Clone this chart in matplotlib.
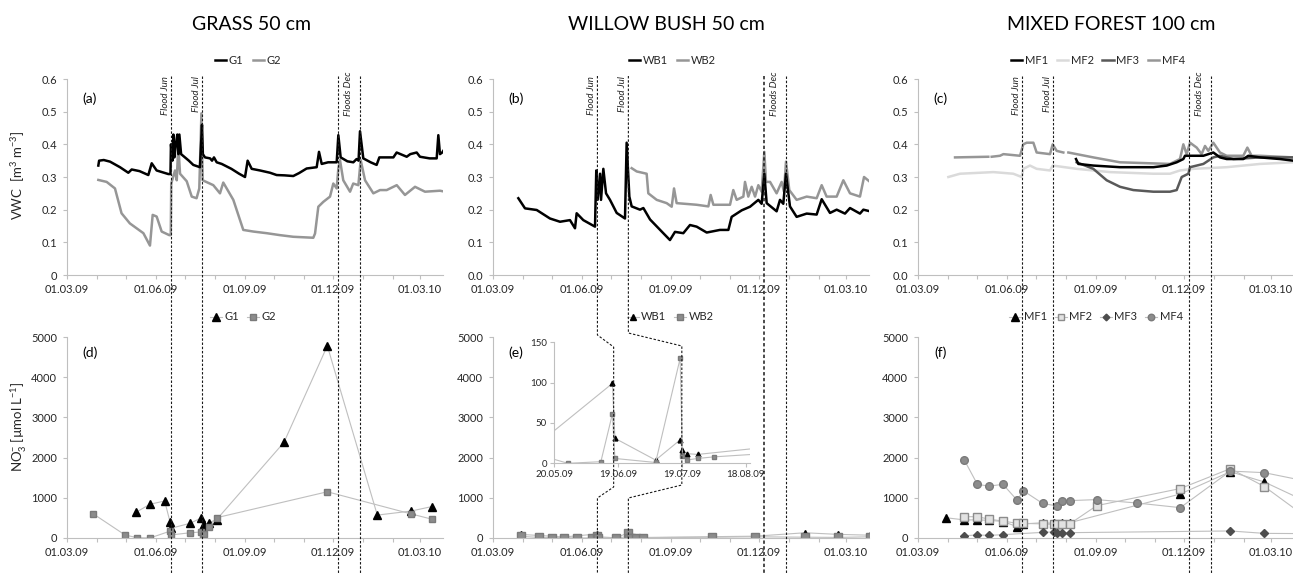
import numpy as np
import matplotlib
matplotlib.use('Agg')
import matplotlib.pyplot as plt
import matplotlib.dates as mdates
from matplotlib.lines import Line2D
from matplotlib.ticker import FuncFormatter, FixedLocator
from matplotlib.transforms import blended_transform_factory
from datetime import datetime

plt.rcParams['font.family'] = ['Lato', 'DejaVu Sans']
plt.rcParams['mathtext.fontset'] = 'custom'
plt.rcParams['mathtext.rm'] = 'Lato'
plt.rcParams['mathtext.it'] = 'Lato:italic'

# all x values are days after 01.03.2009
BASE = mdates.date2num(datetime(2009, 3, 1))
XMAX = 389

FLOOD_DAYS = [108, 140, 280, 303]          # 17.06.09, 19.07.09, 06.12.09, 29.12.09
FLOOD_LABELS = ['Flood Jun', 'Flood Jul', 'Floods Dec']

# ---- VWC, grass 50 cm
G1_DAY = [32.4, 33.2, 38, 44.5, 54.8, 63.4, 66.9, 75, 84.1, 87.6, 92.7, 104.8, 107, 107.5, 109, 110,
          111, 112.5, 114.1, 115.2, 116.2, 118, 122, 126, 130.6, 137.5, 139.6, 140.5, 142.7, 148,
          150, 152, 154.8, 160, 170, 178, 184.1, 186.8, 191, 199.6, 210, 216.8, 225, 234, 240,
          247.8, 258.2, 260.6, 263.4, 270, 278.9, 280.6, 283, 290, 296.1, 299.5, 301.5, 303,
          306.4, 314, 320.2, 323, 337.5, 340.9, 351.3, 355, 361.6, 365, 375, 382.3, 384, 385.7,
          388, 390.9]
G1_VWC = [0.335, 0.35, 0.352, 0.347, 0.33, 0.313, 0.323, 0.318, 0.306, 0.342, 0.32, 0.309, 0.309,
          0.40, 0.35, 0.43, 0.36, 0.40, 0.43, 0.37, 0.43, 0.37, 0.36, 0.35, 0.337, 0.33, 0.46,
          0.37, 0.36, 0.357, 0.35, 0.36, 0.345, 0.34, 0.325, 0.31, 0.30, 0.35, 0.325, 0.32, 0.313,
          0.306, 0.305, 0.303, 0.312, 0.326, 0.33, 0.377, 0.34, 0.345, 0.345, 0.428, 0.36, 0.348,
          0.345, 0.355, 0.35, 0.44, 0.357, 0.345, 0.337, 0.36, 0.36, 0.375, 0.362, 0.37, 0.375,
          0.362, 0.357, 0.357, 0.428, 0.37, 0.375, 0.388]
G2_DAY = [32.4, 41, 49.6, 56.4, 65, 72, 79, 85.8, 88.6, 92.7, 97.9, 105.8, 107.3, 107.8, 111.7,
          113.5, 115.1, 116.9, 123.8, 129, 134, 136.8, 139, 140.3, 151.3, 158.2, 161.6, 172, 182.3,
          192.7, 206.5, 220.3, 234, 254.7, 256.5, 259.9, 265.1, 272, 275.4, 278.9, 280.6, 282.3,
          285.7, 292.7, 296, 301.3, 303.7, 308.2, 316.8, 323.7, 330.6, 341, 349.5, 359.9, 370.2,
          385.7, 390.9]
G2_VWC = [0.291, 0.285, 0.265, 0.189, 0.158, 0.143, 0.128, 0.09, 0.184, 0.179, 0.133, 0.122, 0.122,
          0.28, 0.32, 0.29, 0.398, 0.31, 0.287, 0.24, 0.235, 0.265, 0.495, 0.29, 0.275, 0.25,
          0.283, 0.23, 0.138, 0.133, 0.128, 0.122, 0.117, 0.114, 0.127, 0.209, 0.224, 0.24, 0.28,
          0.265, 0.326, 0.352, 0.29, 0.255, 0.28, 0.275, 0.352, 0.29, 0.25, 0.26, 0.26, 0.275,
          0.245, 0.27, 0.255, 0.258, 0.255]

# ---- VWC, willow bush 50 cm
WB1_DAY = [26.2, 33.1, 45.2, 58.9, 69.3, 79.6, 84.8, 86.5, 93.4, 105.5, 106.8, 108.2, 110.7, 111.7,
           114.1, 116.9, 121, 127.9, 136.5, 138.2, 141, 143.4, 152, 155.5, 162.4, 176.1, 183,
           188.2, 196.8, 203.7, 210.6, 221, 234.7, 243.4, 246.8, 257.2, 265.8, 274.4, 277.8,
           280.6, 283, 293.3, 296.8, 300.2, 303, 307.1, 314, 324.4, 334.7, 339.9, 348.5, 355.4,
           364, 369.2, 379.5, 383, 389.9]
WB1_VWC = [0.235, 0.204, 0.199, 0.173, 0.163, 0.168, 0.143, 0.189, 0.168, 0.148, 0.32, 0.23, 0.31,
           0.23, 0.325, 0.25, 0.23, 0.19, 0.173, 0.405, 0.24, 0.21, 0.2, 0.205, 0.17, 0.128, 0.107,
           0.132, 0.128, 0.153, 0.148, 0.13, 0.138, 0.138, 0.178, 0.198, 0.209, 0.23, 0.218, 0.31,
           0.22, 0.195, 0.23, 0.218, 0.31, 0.21, 0.178, 0.188, 0.185, 0.232, 0.19, 0.2, 0.188,
           0.205, 0.188, 0.2, 0.195]
WB2_DAY = [143.4, 148.6, 158.9, 160.6, 169.3, 179.6, 184.8, 187.2, 189.9, 210.6, 222.7, 225.1,
           227.9, 245.1, 248.5, 252, 258.9, 260.6, 264, 267.5, 271, 274.4, 277.8, 280.6, 282.3,
           286.5, 293.3, 298.5, 300.9, 303, 306.4, 314, 324.4, 334.7, 339.9, 345, 355.4, 362.3,
           369.2, 379.5, 383.7, 389.9]
WB2_VWC = [0.327, 0.317, 0.31, 0.25, 0.23, 0.22, 0.209, 0.265, 0.22, 0.215, 0.21, 0.245, 0.215,
           0.215, 0.26, 0.23, 0.24, 0.285, 0.24, 0.27, 0.24, 0.275, 0.255, 0.377, 0.285, 0.285,
           0.25, 0.285, 0.255, 0.347, 0.26, 0.23, 0.24, 0.235, 0.275, 0.24, 0.24, 0.29, 0.25, 0.24,
           0.3, 0.285]

# ---- VWC, mixed forest 100 cm
MF1_DAY = [163.4, 165.8, 181.3, 208.9, 243.4, 257.2, 267.5, 274.4, 276.1, 295.1, 305.4, 312.3,
           319.2, 336.4, 341.6, 353.7, 374.4, 388.1]
MF1_VWC = [0.355, 0.34, 0.335, 0.33, 0.33, 0.335, 0.345, 0.355, 0.365, 0.365, 0.375, 0.36, 0.355,
           0.355, 0.365, 0.36, 0.355, 0.35]
MF2_DAY = [31.4, 43.4, 77.9, 98.6, 107.2, 108.9, 115.8, 122.7, 136.5, 139.3, 164.1, 198.6, 243.4,
           260.6, 270.9, 284.7, 319.2, 353.7, 388.1]
MF2_VWC = [0.30, 0.31, 0.315, 0.31, 0.30, 0.325, 0.335, 0.325, 0.32, 0.335, 0.325, 0.315, 0.31,
           0.31, 0.32, 0.325, 0.33, 0.34, 0.345]
MF3_DAY = [164.1, 181.3, 195.1, 208.9, 222.7, 243.4, 260.6, 267.5, 272.7, 279.6, 281.3, 295.1,
           305.4, 312.3, 326.1, 353.7, 388.1]
MF3_VWC = [0.345, 0.325, 0.29, 0.27, 0.26, 0.255, 0.255, 0.26, 0.30, 0.31, 0.33, 0.34, 0.36,
           0.365, 0.355, 0.36, 0.36]
MF4_DAY = [38.3, 72.7, 74.5, 76.2, 84.8, 88.3, 105.5, 108.9, 112.4, 119.3, 122.7, 136.5, 139.3,
           143.4, 150.3, 153, 155.5, 181.3, 208.9, 260.6, 270.9, 274.4, 277.8, 281.3, 288.2, 293.3,
           296.8, 300.2, 305.4, 312.3, 319.2, 336.4, 340.6, 345, 353.7, 388.1]
MF4_VWC = [0.36, 0.362, np.nan, 0.362, 0.365, 0.37, 0.365, 0.40, 0.405, 0.405, 0.375, 0.37, 0.40,
           0.38, 0.375, np.nan, 0.375, 0.36, 0.345, 0.34, 0.355, 0.40, 0.37, 0.405, 0.39, 0.37,
           0.395, 0.38, 0.405, 0.375, 0.365, 0.365, 0.39, 0.365, 0.365, 0.36]

# ---- NO3-, grass
G1N_DAY = [71.4, 85.8, 101, 106.5, 107.2, 127.2, 138.9, 140.3, 141.7, 147.2, 154.8, 224.4, 269.2,
           320.9, 355.7, 377]
G1N = [640, 840, 920, 405, 240, 365, 500, 290, 330, 385, 460, 2380, 4780, 570, 670, 780]
G2N_DAY = [27.2, 60, 72, 85.8, 106.5, 107.2, 127.2, 138.9, 140.3, 141.7, 147.2, 154.8, 269.2,
           355.7, 377]
G2N = [600, 75, 10, 0, 170, 75, 130, 150, 50, 110, 265, 505, 1150, 600, 470]

# ---- NO3-, willow bush
WB1N_DAY = [28.6, 73.4, 107.4, 108.6, 127.7, 139.2, 140.3, 142.3, 147.4, 270.9, 322.6, 357.1, 389.9]
WB1N = [90, 26, 99, 31, 4, 29, 17, 12, 11, 45, 130, 90, 70]
WB2N_DAY = [28.6, 47.6, 61, 73.4, 86.5, 102, 107.4, 108.6, 127.7, 139.2, 140.3, 142.3, 147.4,
            155.2, 226.1, 270.9, 322.6, 357.1, 389.9]
WB2N = [40, 15, 10, 10, 0, 2, 61, 6, 1, 130, 9, 4, 6, 8, 20, 30, 20, 15, 30]
INSET_TICKS = ['2009-05-20', '2009-06-19', '2009-07-19', '2009-08-18']

# ---- NO3-, mixed forest (last samples lie just past the right edge)
MF1N_DAY = [28.6, 47.9, 61.4, 73.4, 87.9, 102.7, 108.6, 128.9, 140.6, 144.1, 148.9, 156.8, 271.3,
            323, 358.2, 394]
MF1N = [505, 450, 450, 440, 410, 280, 350, 380, 365, 340, 380, 380, 1095, 1650, 1393, 990]
MF2N_DAY = [47.9, 61.4, 73.4, 87.9, 102.7, 108.6, 128.9, 140.6, 144.1, 148.9, 156.8, 184.8, 271.3,
            323, 358.2, 394]
MF2N = [530, 530, 470, 420, 365, 365, 350, 340, 340, 355, 350, 805, 1230, 1725, 1280, 650]
MF3N_DAY = [47.9, 61.4, 73.4, 87.9, 128.9, 140.6, 144.1, 148.9, 156.8, 323, 358.2, 394]
MF3N = [57, 75, 65, 83, 140, 150, 115, 125, 133, 175, 115, 110]
MF4N_DAY = [47.9, 61.4, 73.4, 87.9, 102.7, 108.6, 128.9, 144.1, 148.9, 156.8, 184.8, 226.5, 271.3,
            323, 358.2, 394]
MF4N = [1940, 1335, 1290, 1335, 935, 1180, 860, 796, 910, 930, 955, 870, 755, 1665, 1625, 1450]


def dx(days):
    return BASE + np.asarray(days, dtype=float)


W, H = 1293, 573
fig = plt.figure(figsize=(W / 100, H / 100), dpi=100)

AXIS = '#bfbfbf'
TXT = '#262626'
COLS = [67, 493, 918]
AX_W = XMAX * 0.967


def new_ax(left, top, bottom):
    return fig.add_axes([left / W, 1 - bottom / H, AX_W / W, (bottom - top) / H])


def style(ax, size=8):
    for s in ('top', 'right'):
        ax.spines[s].set_visible(False)
    for s in ('left', 'bottom'):
        ax.spines[s].set_color(AXIS)
        ax.spines[s].set_linewidth(0.8)
    ax.tick_params(which='both', direction='out', color=AXIS, width=0.8,
                   labelsize=size, labelcolor=TXT, length=3)
    ax.tick_params(axis='y', pad=4)
    ax.set_facecolor('none')


top_axes = [new_ax(c, 79, 275) for c in COLS]
bot_axes = [new_ax(c, 337, 538) for c in COLS]

for ax in top_axes + bot_axes:
    style(ax)
    ax.set_xlim(BASE, BASE + XMAX)
    ax.xaxis.set_major_locator(mdates.MonthLocator(bymonth=[3, 6, 9, 12]))
    ax.xaxis.set_minor_locator(mdates.MonthLocator())
    ax.xaxis.set_major_formatter(mdates.DateFormatter('%d.%m.%y'))

for i, ax in enumerate(top_axes):
    ax.set_ylim(0, 0.6)
    ax.set_yticks(np.arange(0, 0.61, 0.1))
    if i == 0:
        ax.yaxis.set_major_formatter(FuncFormatter(lambda v, p: '0' if abs(v) < 1e-9 else f'{v:.1f}'))
    else:
        ax.yaxis.set_major_formatter(FuncFormatter(lambda v, p: f'{v:.1f}'))
for ax in bot_axes:
    ax.set_ylim(0, 5000)
    ax.set_yticks(range(0, 5001, 1000))

LW = 1.8
ax_a, ax_b, ax_c = top_axes
ax_a.plot(dx(G2_DAY), G2_VWC, color='#969696', lw=LW)
ax_a.plot(dx(G1_DAY), G1_VWC, color='#000000', lw=LW)
ax_b.plot(dx(WB2_DAY), WB2_VWC, color='#969696', lw=LW)
ax_b.plot(dx(WB1_DAY), WB1_VWC, color='#000000', lw=LW)
mf_cols = {'MF1': '#000000', 'MF2': '#dadada', 'MF3': '#595959', 'MF4': '#969696'}
ax_c.plot(dx(MF2_DAY), MF2_VWC, color=mf_cols['MF2'], lw=LW)
ax_c.plot(dx(MF4_DAY), MF4_VWC, color=mf_cols['MF4'], lw=LW)
ax_c.plot(dx(MF3_DAY), MF3_VWC, color=mf_cols['MF3'], lw=LW)
ax_c.plot(dx(MF1_DAY), MF1_VWC, color=mf_cols['MF1'], lw=LW)


def line_legend(ax, names, colors, xc):
    h = [Line2D([], [], color=c, lw=LW) for c in colors]
    ax.legend(h, names, loc='center', bbox_to_anchor=(xc / W, 1 - 60 / H),
              bbox_transform=fig.transFigure, ncol=len(names), frameon=False,
              fontsize=8, handlelength=1.0, handletextpad=0.25, columnspacing=0.8,
              labelcolor=TXT)


line_legend(ax_a, ['G1', 'G2'], ['#000000', '#969696'], 248)
line_legend(ax_b, ['WB1', 'WB2'], ['#000000', '#969696'], 672)
line_legend(ax_c, ['MF1', 'MF2', 'MF3', 'MF4'], [mf_cols[k] for k in ('MF1', 'MF2', 'MF3', 'MF4')], 1098)

LINE_C = '#bfbfbf'
ax_d, ax_e, ax_f = bot_axes
ax_d.plot(dx(G1N_DAY), G1N, color=LINE_C, lw=0.8, marker='^', ms=6, mfc='k', mec='k', label='G1')
ax_d.plot(dx(G2N_DAY), G2N, color=LINE_C, lw=0.8, marker='s', ms=5, mfc='#8c8c8c', mec='#7a7a7a', label='G2')
ax_e.plot(dx(WB1N_DAY), WB1N, color=LINE_C, lw=0.8, marker='^', ms=5, mfc='k', mec='k', label='WB1')
ax_e.plot(dx(WB2N_DAY), WB2N, color=LINE_C, lw=0.8, marker='s', ms=5.5, mfc='#8c8c8c', mec='#7a7a7a', label='WB2')
ax_f.plot(dx(MF1N_DAY), MF1N, color=LINE_C, lw=0.8, marker='^', ms=6, mfc='k', mec='k', label='MF1')
ax_f.plot(dx(MF2N_DAY), MF2N, color=LINE_C, lw=0.8, marker='s', ms=5.5, mfc='#e2e2e2', mec='#8c8c8c', label='MF2')
ax_f.plot(dx(MF3N_DAY), MF3N, color=LINE_C, lw=0.8, marker='D', ms=4, mfc='#4d4d4d', mec='#4d4d4d', label='MF3')
ax_f.plot(dx(MF4N_DAY), MF4N, color=LINE_C, lw=0.8, marker='o', ms=5.5, mfc='#8c8c8c', mec='#7a7a7a', label='MF4')

for ax, xc in zip(bot_axes, [243, 670, 1096]):
    ax.legend(loc='center', bbox_to_anchor=(xc / W, 1 - 317 / H), bbox_transform=fig.transFigure,
              ncol=4, frameon=False, fontsize=8, handlelength=1.1, handletextpad=0.2,
              columnspacing=0.7, labelcolor=TXT, markerscale=0.85)

# inset in (e)
ins = fig.add_axes([554 / W, 1 - 463.3 / H, 196 / W, 121 / H])
style(ins, size=7)
ins.plot(dx(WB1N_DAY), WB1N, color=LINE_C, lw=0.8, marker='^', ms=3.5, mfc='k', mec='k')
ins.plot(dx(WB2N_DAY), WB2N, color=LINE_C, lw=0.8, marker='s', ms=3.2, mfc='#8c8c8c', mec='#7a7a7a')
ins.set_xlim(BASE + 80, BASE + 172)
ins.set_ylim(0, 150)
ins.set_yticks([0, 50, 100, 150])
ins.xaxis.set_major_locator(FixedLocator(mdates.datestr2num(INSET_TICKS)))
ins.xaxis.set_major_formatter(mdates.DateFormatter('%d.%m.%y'))
ins.tick_params(axis='x', pad=2)
ins.tick_params(axis='y', pad=2)

# panel letters
for ax, lab in zip(top_axes + bot_axes, ['(a)', '(b)', '(c)', '(d)', '(e)', '(f)']):
    yy = 0.9 if ax in top_axes else 0.92
    ax.text(0.06, yy, lab, transform=ax.transAxes, ha='center', va='center', fontsize=10, color='black')

# flood labels
for ax in top_axes:
    tr = blended_transform_factory(ax.transData, ax.transAxes)
    ax.text(BASE + FLOOD_DAYS[0] - 6.5, 1.015, FLOOD_LABELS[0], transform=tr, rotation=90,
            ha='center', va='top', fontsize=7, style='italic', color=TXT)
    ax.text(BASE + FLOOD_DAYS[1] - 6, 1.015, FLOOD_LABELS[1], transform=tr, rotation=90,
            ha='center', va='top', fontsize=7, style='italic', color=TXT)
    ax.text(BASE + (FLOOD_DAYS[2] + FLOOD_DAYS[3]) / 2, 1.04, FLOOD_LABELS[2], transform=tr,
            rotation=90, ha='center', va='top', fontsize=7, style='italic', color=TXT)

# dashed flood lines across both rows
DASH = dict(color='#1a1a1a', lw=0.8, linestyle=(0, (2.2, 1.6)))
inv = fig.transFigure.inverted()


def fig_x(ax, day):
    return inv.transform(ax.transData.transform((BASE + day, 0)))[0]


top_y = 1 - 76 / H
for col, ax in enumerate(top_axes):
    for k, d in enumerate(FLOOD_DAYS):
        xm = fig_x(ax, d)
        if col == 1 and k < 2:
            xi = fig_x(ins, d)
            ys = [76, 335, 347, 487, 498, 573] if k == 0 else [76, 333, 346, 485, 498, 573]
            xs = [xm, xm, xi, xi, xm, xm]
            fig.add_artist(Line2D(xs, [1 - y / H for y in ys], transform=fig.transFigure, **DASH))
        else:
            lw = 1.1 if (col == 1 and k == 2) else 0.8
            kw = dict(DASH, lw=lw)
            fig.add_artist(Line2D([xm, xm], [top_y, 0], transform=fig.transFigure, **kw))

# titles and axis labels
for txt, xc in zip(['GRASS 50 cm', 'WILLOW BUSH 50 cm', 'MIXED FOREST 100 cm'], [252, 666, 1111]):
    fig.text(xc / W, 1 - 24 / H, txt, ha='center', va='center', fontsize=14, color='black')
fig.text(18 / W, 1 - 175 / H, r'VWC  [m$^3$ m$^{-3}$]', rotation=90, ha='center', va='center',
         fontsize=9.5, color=TXT)
fig.text(19 / W, 1 - 427 / H, r'NO$_3^{-}$ [µmol L$^{-1}$]', rotation=90, ha='center', va='center',
         fontsize=9.5, color=TXT)

fig.savefig('out.png', dpi=100, facecolor='white')
